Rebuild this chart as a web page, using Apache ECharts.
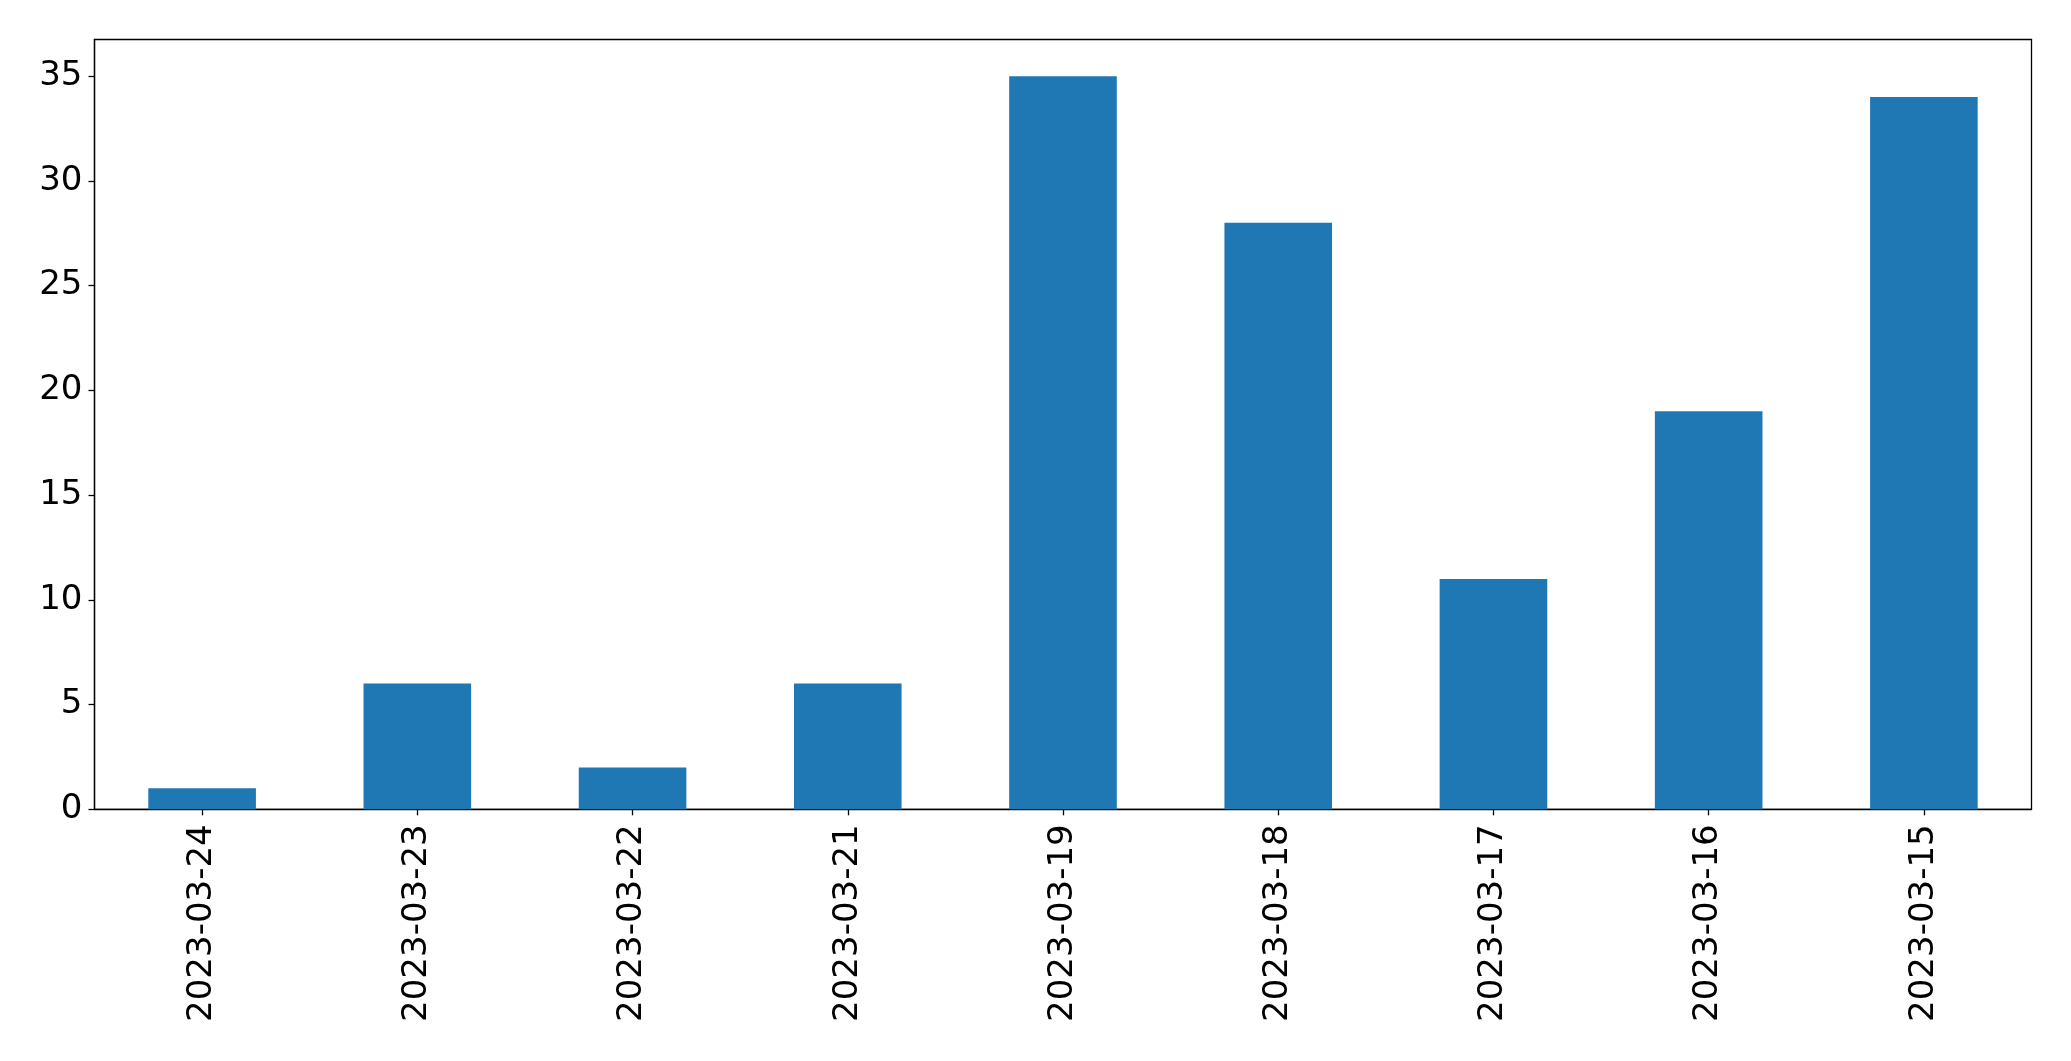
<!DOCTYPE html>
<html>
<head>
<meta charset="utf-8">
<script src="https://cdn.jsdelivr.net/npm/echarts@6/dist/echarts.min.js"></script>
<style>
html,body{margin:0;padding:0;background:#fff;}
#chart{width:2071px;height:1061px;}
</style>
</head>
<body>
<div id="chart"></div>
<script>
const categories = ['2023-03-24','2023-03-23','2023-03-22','2023-03-21','2023-03-19','2023-03-18','2023-03-17','2023-03-16','2023-03-15'];
const values = [1, 6, 2, 6, 35, 28, 11, 19, 34];
const yTicks = [0, 5, 10, 15, 20, 25, 30, 35];

const chart = echarts.init(document.getElementById('chart'), null, {renderer: 'canvas'});
const font = 'DejaVu Sans';
chart.setOption({
  animation: false,
  grid: {left: 94.5, right: 39.5, top: 39.5, bottom: 251.7, show: true, borderColor: '#000', borderWidth: 1.3, backgroundColor: 'transparent'},
  xAxis: {
    type: 'category',
    data: categories,
    axisLine: {show: true, lineStyle: {color: '#000', width: 1.3}},
    axisTick: {show: true, alignWithLabel: true, length: 6, lineStyle: {color: '#000', width: 1.3}},
    axisLabel: {rotate: 90, color: '#000', fontFamily: font, fontSize: 34, margin: 15, interval: 0},
    splitLine: {show: false}
  },
  yAxis: {
    type: 'value',
    min: 0,
    max: 36.75,
    interval: 5,
    axisLine: {show: true, lineStyle: {color: '#000', width: 1.3}},
    axisTick: {show: true, length: 6, lineStyle: {color: '#000', width: 1.3}, customValues: yTicks},
    axisLabel: {color: '#000', fontFamily: font, fontSize: 34, margin: 12, customValues: yTicks},
    splitLine: {show: false}
  },
  series: [{
    type: 'bar',
    data: values,
    barWidth: '50%',
    itemStyle: {color: '#1f77b4'}
  }]
});
</script>
</body>
</html>
